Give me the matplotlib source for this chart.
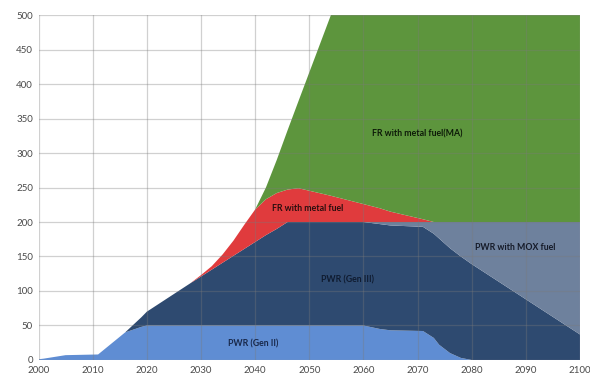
import matplotlib
matplotlib.use("Agg")
import matplotlib.pyplot as plt

# Installed capacity by reactor type (stacked), breakpoint years
years = [2000, 2001, 2005, 2011, 2016, 2019, 2020, 2028, 2030, 2032, 2034, 2036,
         2038, 2040, 2042, 2044, 2046, 2048, 2054, 2060, 2063, 2065, 2071, 2073,
         2074, 2076, 2078, 2080, 2100]

pwr_gen2 = [1, 2, 7, 8, 40, 48, 50, 50, 50, 50, 50, 50,
            50, 50, 50, 50, 50, 50, 50, 50, 45, 43, 42, 32,
            22, 10, 3, 0, 0]
pwr_gen3 = [0, 0, 0, 0, 0, 14, 20, 61, 71, 81, 91, 101,
            111, 121, 131, 140, 150, 150, 150, 150, 152, 152, 151, 151,
            154, 152, 147, 139, 37]
pwr_mox = [0, 0, 0, 0, 0, 0, 0, 0, 0, 0, 0, 0,
           0, 0, 0, 0, 0, 0, 0, 0, 3, 5, 7, 17,
           24, 38, 50, 61, 163]
fr_metal = [0, 0, 0, 0, 0, 0, 0, 0, 2, 5, 12, 22,
            35, 47, 52, 52, 47, 49, 38, 26, 20, 15, 4, 0,
            0, 0, 0, 0, 0]
fr_metal_ma = [0, 0, 0, 0, 0, 0, 0, 0, 0, 0, 0, 0,
               0, 0, 17, 48, 86, 126, 262, 274, 280, 285, 296, 300,
               300, 300, 300, 300, 300]

series = [pwr_gen2, pwr_gen3, pwr_mox, fr_metal, fr_metal_ma]
colors = ["#5f8dd3", "#2e4a70", "#6e819d", "#e03b3d", "#5d953d"]

labels = [
    ("PWR (Gen II)", 2039.6, 23, "#18284a"),
    ("PWR (Gen III)", 2057.1, 116, "#0f1b30"),
    ("PWR with MOX fuel", 2088.0, 163, "#151a28"),
    ("FR with metal fuel", 2049.7, 220, "#2a0e0e"),
    ("FR with metal fuel(MA)", 2070.0, 327, "#0d1a08"),
]

fig = plt.figure(figsize=(5.9, 3.76), dpi=100)
ax = fig.add_axes([0.0653, 0.0426, 0.9177, 0.9174])

ax.stackplot(years, *series, colors=colors, linewidth=0)

ax.set_xlim(2000, 2100)
ax.set_ylim(0, 500)
ax.set_xticks(range(2000, 2101, 10))
ax.set_yticks(range(0, 501, 50))

ax.set_axisbelow(False)
ax.grid(True, color="#7a7a7a", alpha=0.35, linewidth=0.9)
for s in ax.spines.values():
    s.set_visible(False)
ax.tick_params(length=0, labelsize=7, colors="#4a4a4a", pad=4)
for lbl in ax.get_xticklabels() + ax.get_yticklabels():
    lbl.set_fontfamily("Lato")

for text, x, y, c in labels:
    ax.text(x, y, text, ha="center", va="center", fontsize=6.3,
            fontweight="bold", color=c, family="Lato")

fig.savefig("out.png", dpi=100)
